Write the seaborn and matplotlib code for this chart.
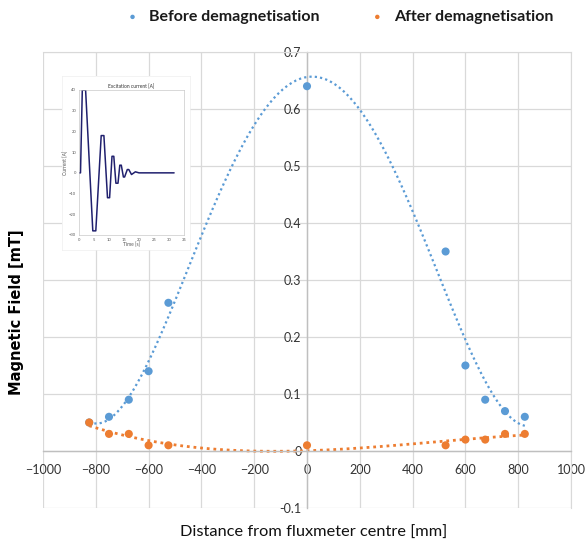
import numpy as np
import pandas as pd
import seaborn as sns
import matplotlib.pyplot as plt
from matplotlib.ticker import FuncFormatter

sns.set_style("white")
plt.rcParams['font.family'] = ['Lato', 'DejaVu Sans']

OUTPUT_PATH = "out.png"

# measurement positions [mm]
positions = [-825, -750, -675, -600, -525, 0, 525, 600, 675, 750, 825]
# field before / after demagnetisation [mT]
before_demag = [0.05, 0.06, 0.09, 0.14, 0.26, 0.64, 0.35, 0.15, 0.09, 0.07, 0.06]
after_demag = [0.05, 0.03, 0.03, 0.01, 0.01, 0.01, 0.01, 0.02, 0.02, 0.03, 0.03]

# inset: excitation current waveform (breakpoints)
exc_time = [0, 0.5, 1.1, 2.2, 4.6, 5.6, 7.4, 8.3, 9.5, 10.2, 11.0, 11.6, 12.3, 13.0,
            13.6, 14.1, 14.8, 15.2, 16.1, 16.6, 17.5, 18.8, 20.0, 31.7]
exc_current = [0, 0, 40, 40, -28, -28, 18, 18, -12, -12, 8, 8, -5, -5,
               3.7, 3.7, -2, -2, 1.6, 1.6, -0.8, 0.5, 0, 0]

BLUE = "#5B9BD5"
ORANGE = "#ED7D31"
GRID = "#d9d9d9"


def make_plot():
    df = pd.DataFrame({"x": positions, "before": before_demag, "after": after_demag})

    fig = plt.figure(figsize=(5.86, 5.47), dpi=100)
    ax = fig.add_axes([43 / 586, 1 - 508 / 547, 528 / 586, 456 / 547])

    # polynomial trendlines (Excel style dotted)
    dots = (0, (1, 1.4))
    sns.regplot(data=df, x="x", y="before", order=4, ci=None, scatter=False, ax=ax,
                color=BLUE, line_kws={"ls": dots, "lw": 1.6})
    sns.regplot(data=df, x="x", y="after", order=3, ci=None, scatter=False, ax=ax,
                color=ORANGE, line_kws={"ls": dots, "lw": 2.0})

    sns.scatterplot(data=df, x="x", y="before", ax=ax, color=BLUE, s=34,
                    edgecolor="none", label="Before demagnetisation", zorder=4)
    sns.scatterplot(data=df, x="x", y="after", ax=ax, color=ORANGE, s=34,
                    edgecolor="none", label="After demagnetisation", zorder=4)

    ax.set_xlim(-1000, 1000)
    ax.set_ylim(-0.1, 0.7)
    ax.set_xticks(np.arange(-1000, 1001, 200))
    ax.set_yticks(np.arange(-0.1, 0.71, 0.1))
    ax.yaxis.set_major_formatter(FuncFormatter(lambda v, p: f"{round(v, 1):g}"))
    ax.grid(True, color=GRID, lw=0.9)
    ax.set_axisbelow(True)

    # axes cross at the origin, like Excel
    ax.spines['left'].set_position(('data', 0))
    ax.spines['bottom'].set_position(('data', 0))
    for s in ['left', 'bottom']:
        ax.spines[s].set_color("#bfbfbf")
        ax.spines[s].set_linewidth(1.0)
    for s in ['right', 'top']:
        ax.spines[s].set_color(GRID)
    ax.tick_params(length=0, labelsize=9, colors="#333333")
    ax.tick_params(axis="x", pad=9)
    ax.tick_params(axis="y", pad=4)
    ax.set_xlabel("")
    ax.set_ylabel("")

    fig.text(314 / 586, 1 - 533 / 547, "Distance from fluxmeter centre [mm]",
             ha="center", va="center", fontsize=11.8, color="#111111")
    fig.text(17 / 586, 1 - 312 / 547, "Magnetic Field [mT]", rotation=90,
             ha="center", va="center", fontsize=10.5, fontweight="bold",
             family="DejaVu Sans", color="black")

    leg = ax.legend(loc="center", bbox_to_anchor=(335 / 586, 1 - 17 / 547),
                    bbox_transform=fig.transFigure, ncol=2, frameon=False,
                    handletextpad=0.05, columnspacing=2.6, markerscale=0.55,
                    prop={"size": 11.5, "weight": "bold"})
    for t in leg.get_texts():
        t.set_color("#1a1a1a")

    # inset image of the excitation current
    bg = fig.add_axes([62 / 586, 1 - 250 / 547, 128 / 586, 174 / 547])
    bg.set_facecolor("white")
    bg.set_xticks([])
    bg.set_yticks([])
    for s in bg.spines.values():
        s.set_color("#eeeeee")
        s.set_linewidth(0.5)

    ins = fig.add_axes([79 / 586, 1 - 235 / 547, 105 / 586, 145 / 547])
    ins.set_facecolor("white")
    sns.lineplot(x=exc_time, y=exc_current, ax=ins, color="#20206e", lw=1.1)
    ins.set_xlim(0, 35)
    ins.set_ylim(-30, 40)
    ins.set_xticks(np.arange(0, 36, 5))
    ins.set_yticks(np.arange(-30, 41, 10))
    ins.tick_params(labelsize=3, length=1, width=0.3, colors="#555555", pad=1)
    for s in ins.spines.values():
        s.set_color("#bbbbbb")
        s.set_linewidth(0.4)
    ins.set_title("Excitation current [A]", fontsize=3.5, pad=1, color="#333333")
    ins.set_xlabel("Time [s]", fontsize=3.5, labelpad=0.5, color="#555555")
    ins.set_ylabel("Current [A]", fontsize=3.5, labelpad=0.5, color="#555555")

    fig.savefig(OUTPUT_PATH, dpi=100)
    plt.close(fig)


if __name__ == "__main__":
    make_plot()
